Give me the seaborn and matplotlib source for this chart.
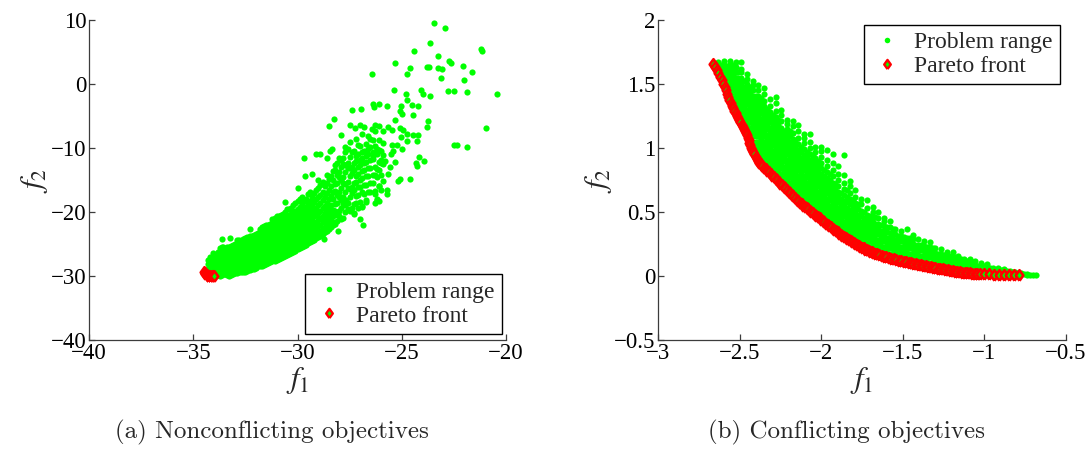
import matplotlib
matplotlib.use("Agg")
import matplotlib.pyplot as plt
from matplotlib.lines import Line2D
from matplotlib.markers import MarkerStyle
import seaborn as sns

# ---------------- (a) nonconflicting objectives ----------------
# dense core, stored column by column: f1 of the column, f2 of its points
a_core_f1 = [-34.3, -34.1, -33.9, -33.7, -33.5, -33.3, -33.1, -32.9, -32.7, -32.5,
             -32.3, -32.1, -31.9, -31.7, -31.5, -31.3, -31.1, -30.9, -30.7, -30.5,
             -30.3, -30.1, -29.9, -29.7, -29.5, -29.3, -29.1, -28.9, -28.7, -28.5,
             -28.3, -28.1, -27.9, -27.7, -27.5, -27.3, -27.1, -26.9, -26.7, -26.5,
             -26.3, -26.1, -25.9]
a_core_f2 = [
    [-28.9, -28.2, -27.5],
    [-29.4, -28.65, -27.9, -27.15],
    [-29.75, -29.0, -28.25, -27.5, -26.75],
    [-30.0, -29.25, -28.5, -27.75, -27.0, -26.25, -25.6],
    [-29.75, -29.0, -28.25, -27.5, -26.75, -26.0],
    [-30.0, -29.25, -28.5, -27.75, -27.0, -26.25, -25.5],
    [-29.7, -28.95, -28.2, -27.45, -26.7, -25.95, -25.2],
    [-29.6, -28.85, -28.1, -27.35, -26.6, -25.85, -25.1, -24.4],
    [-29.3, -28.55, -27.8, -27.05, -26.3, -25.55, -24.8],
    [-29.3, -28.55, -27.8, -27.05, -26.3, -25.55, -24.8, -24.05],
    [-29.0, -28.25, -27.5, -26.75, -26.0, -25.25, -24.5, -23.75],
    [-28.85, -28.1, -27.35, -26.6, -25.85, -25.1, -24.35, -23.6],
    [-28.5, -27.75, -27.0, -26.25, -25.5, -24.75, -24.0, -23.25],
    [-28.4, -27.65, -26.9, -26.15, -25.4, -24.65, -23.9, -23.15, -22.4],
    [-28.1, -27.35, -26.6, -25.85, -25.1, -24.35, -23.6, -22.85, -22.1],
    [-27.85, -27.1, -26.35, -25.6, -24.85, -24.1, -23.35, -22.6, -21.85],
    [-27.6, -26.85, -26.1, -25.35, -24.6, -23.85, -23.1, -22.35, -21.6, -20.9],
    [-27.3, -26.55, -25.8, -25.05, -24.3, -23.55, -22.8, -22.05, -21.3, -20.6],
    [-27.1, -26.35, -25.6, -24.85, -24.1, -23.35, -22.6, -21.85, -21.1, -20.3],
    [-26.75, -26.0, -25.25, -24.5, -23.75, -23.0, -22.25, -21.5, -20.6, -19.6],
    [-26.4, -25.65, -24.9, -24.15, -23.4, -22.65, -21.9, -21.15, -20.3, -19.3],
    [-26.05, -25.3, -24.55, -23.8, -23.05, -22.3, -21.55, -20.7, -19.8, -18.6],
    [-25.7, -24.95, -24.2, -23.45, -22.7, -21.95, -21.1, -20.2, -19.2, -18.0],
    [-25.3, -24.55, -23.8, -23.05, -22.3, -21.5, -20.6, -19.5, -18.3],
    [-24.9, -24.15, -23.4, -22.65, -21.8, -20.9, -19.9, -18.8, -17.2],
    [-24.5, -23.75, -23.0, -22.2, -21.3, -20.3, -19.1, -17.7],
    [-24.1, -23.3, -22.4, -21.5, -20.4, -19.3, -18.0, -16.5],
    [-23.7, -22.9, -22.0, -21.0, -19.8, -18.6, -17.3, -15.8],
    [-23.2, -22.3, -21.3, -20.2, -19.0, -17.6, -16.0],
    [-22.6, -21.6, -20.5, -19.3, -18.0, -16.5, -14.8],
    [-22.0, -20.6, -19.7, -18.0, -16.9, -15.0, -13.6],
    [-21.4, -20.4, -18.6, -17.4, -15.5, -14.2, -12.4],
    [-21.1, -19.3, -18.1, -16.2, -15.0, -13.0, -11.9],
    [-20.0, -18.9, -16.8, -15.6, -13.7, -12.6, -10.7],
    [-19.8, -17.6, -16.4, -14.3, -13.2, -11.4],
    [-20.1, -18.8, -16.6, -15.5, -13.4, -12.3, -10.4],
    [-19.4, -17.3, -16.1, -14.0, -13.0, -10.9, -9.6],
    [-19.0, -16.9, -14.7, -13.6, -11.5, -10.6],
    [-18.4, -15.8, -14.4, -12.2, -11.2, -9.3],
    [-16.8, -15.5, -13.1, -11.9, -9.9, -8.6],
    [-16.7, -14.2, -12.9, -10.6, -9.7],
    [-18.3, -15.9, -13.4, -12.2, -10.3, -8.7],
    [-15.1, -12.5, -11.1, -7.3],
]
# the in-between columns of the same core
a_mid_f1 = [-34.2, -34.0, -33.8, -33.6, -33.4, -33.2, -33.0, -32.8, -32.6, -32.4,
            -32.2, -32.0, -31.8, -31.6, -31.4, -31.2, -31.0, -30.8, -30.6, -30.4,
            -30.2, -30.0, -29.8, -29.6, -29.4, -29.2, -29.0, -28.8, -28.6, -28.4,
            -28.2, -28.0, -27.8, -27.6, -27.4, -27.2, -27.0, -26.8, -26.6, -26.4,
            -26.2, -26.0]
a_mid_f2 = [
    [-29.2, -28.5, -27.8, -27.1],
    [-29.7, -28.95, -28.2, -27.45, -26.8],
    [-29.9, -29.15, -28.4, -27.65, -26.9, -26.2],
    [-29.9, -29.15, -28.4, -27.65, -26.9, -26.15, -25.5],
    [-29.9, -29.15, -28.4, -27.65, -26.9, -26.15, -25.4],
    [-29.8, -29.05, -28.3, -27.55, -26.8, -26.05, -25.3],
    [-29.55, -28.8, -28.05, -27.3, -26.55, -25.8, -25.05],
    [-29.45, -28.7, -27.95, -27.2, -26.45, -25.7, -24.95, -24.3],
    [-29.4, -28.65, -27.9, -27.15, -26.4, -25.65, -24.9, -24.15],
    [-29.15, -28.4, -27.65, -26.9, -26.15, -25.4, -24.65, -23.9],
    [-28.95, -28.2, -27.45, -26.7, -25.95, -25.2, -24.45, -23.7],
    [-28.7, -27.95, -27.2, -26.45, -25.7, -24.95, -24.2, -23.45],
    [-28.5, -27.75, -27.0, -26.25, -25.5, -24.75, -24.0, -23.25, -22.6],
    [-28.25, -27.5, -26.75, -26.0, -25.25, -24.5, -23.75, -23.0, -22.25],
    [-28.0, -27.25, -26.5, -25.75, -25.0, -24.25, -23.5, -22.75, -22.0],
    [-27.7, -26.95, -26.2, -25.45, -24.7, -23.95, -23.2, -22.45, -21.7, -21.1],
    [-27.45, -26.7, -25.95, -25.2, -24.45, -23.7, -22.95, -22.2, -21.45, -20.7],
    [-27.2, -26.45, -25.7, -24.95, -24.2, -23.45, -22.7, -21.95, -21.2, -20.45],
    [-26.9, -26.15, -25.4, -24.65, -23.9, -23.15, -22.4, -21.65, -20.9, -20.0],
    [-26.55, -25.8, -25.05, -24.3, -23.55, -22.8, -22.05, -21.3, -20.5, -19.5],
    [-26.2, -25.45, -24.7, -23.95, -23.2, -22.45, -21.7, -20.9, -20.0, -18.9],
    [-25.85, -25.1, -24.35, -23.6, -22.85, -22.1, -21.3, -20.4, -19.5, -18.3],
    [-25.5, -24.75, -24.0, -23.25, -22.5, -21.7, -20.8, -19.8, -18.7, -17.6],
    [-25.1, -24.35, -23.6, -22.85, -22.0, -21.1, -20.2, -19.2, -18.0],
    [-24.7, -23.95, -23.2, -22.4, -21.5, -20.6, -19.5, -18.3, -16.8],
    [-24.3, -23.5, -22.6, -21.7, -20.7, -19.7, -18.5, -17.1],
    [-23.9, -23.1, -22.2, -21.2, -20.1, -18.9, -17.6, -16.2, -15.0],
    [-23.4, -22.6, -21.6, -20.6, -19.4, -18.2, -16.8, -15.3],
    [-22.9, -22.0, -20.9, -19.8, -18.6, -17.1, -15.5, -14.2],
    [-22.3, -21.2, -20.1, -18.9, -17.5, -15.9, -14.3],
    [-21.8, -19.9, -18.8, -16.7, -15.7, -13.5, -12.7],
    [-20.6, -19.8, -17.7, -16.8, -14.6, -13.7, -11.6],
    [-20.9, -18.8, -17.7, -15.5, -14.6, -12.5, -11.5],
    [-19.6, -18.6, -16.3, -15.3, -13.2, -12.3, -10.1],
    [-19.3, -17.1, -16.1, -13.9, -12.9, -10.7],
    [-18.6, -17.5, -15.3, -14.3, -12.1, -11.2],
    [-18.5, -16.1, -15.0, -12.7, -11.8, -9.7],
    [-17.2, -15.8, -13.5, -12.4, -10.4],
    [-16.9, -14.3, -13.2, -11.0, -10.2],
    [-15.4, -14.2, -11.7, -10.7, -8.7],
    [-17.9, -14.5, -13.3, -10.9, -10.1],
    [-16.6, -14.2, -11.9, -10.4],
]

# sparse points around and above the core
a_spread_f1 = [-23.43, -22.92, -23.66, -21.19, -21.16, -24.42, -23.27, -25.31, -22.72, -22.62,
               -23.8, -23.7, -22.06, -24.62, -23.25, -23.09, -21.65, -26.42, -24.74, -23.14,
               -22.01, -25.35, -22.76, -22.5, -21.88, -24.09, -24.0, -24.79, -23.63, -20.45,
               -24.74, -24.52, -24.24, -25.02, -26.1, -26.4, -26.35, -25.73, -26.96, -27.39,
               -25.07, -25.0, -24.44, -23.73, -25.31, -23.8, -28.27, -20.97, -28.47, -27.5,
               -26.98, -26.81, -27.26, -26.27, -26.1, -26.43, -26.27, -25.66, -25.45, -25.08,
               -24.95, -24.74, -24.46, -24.21, -25.02, -24.27, -24.74, -25.48, -25.21, -22.48,
               -22.34, -21.86, -24.98, -24.16, -23.93, -24.32, -24.26, -25.18, -25.1, -24.62,
               -25.56, -25.64, -25.7, -25.7, -26.1, -26.27, -26.2, -26.3, -26.73, -26.9,
               -26.85, -27.0, -27.3, -27.67, -27.92, -28.08, -28.3, -28.75, -29.67, -28.94,
               -29.12, -28.42, -28.33, -29.64, -29.29, -30.59, -29.98, -32.3, -33.6, -33.55,
               -34.06, -33.23, -25.5, -25.9, -26.6, -26.9, -25.3, -25.8, -26.4, -27.5,
               -27.9, -27.2, -26.0, -25.4, -27.7, -28.6]
a_spread_f2 = [9.53, 8.8, 6.47, 5.4, 5.2, 5.2, 4.3, 3.35, 3.6, 3.35,
               2.6, 2.6, 2.8, 2.5, 2.5, 2.3, 1.8, 1.5, 1.5, 0.86,
               0.6, -1.0, -1.06, -1.06, -1.3, -0.95, -1.6, -1.5, -1.8, -1.6,
               -2.5, -3.3, -3.4, -3.4, -3.1, -3.2, -3.65, -3.5, -3.9, -4.0,
               -4.2, -4.7, -4.8, -5.8, -5.7, -6.7, -5.4, -6.8, -6.5, -6.35,
               -6.35, -6.65, -6.8, -6.4, -6.6, -7.0, -7.3, -6.7, -7.2, -6.8,
               -7.2, -7.8, -7.9, -7.9, -8.3, -8.85, -8.85, -9.5, -9.6, -9.5,
               -9.6, -9.9, -10.1, -11.4, -12.1, -12.4, -12.8, -15.1, -14.8, -14.9,
               -13.0, -14.0, -17.2, -16.6, -15.9, -17.2, -18.2, -18.6, -18.2, -19.2,
               -22.1, -21.05, -20.3, -18.2, -17.7, -22.9, -21.6, -24.2, -11.6, -11.0,
               -10.9, -10.4, -10.1, -14.4, -14.0, -18.45, -16.3, -22.7, -24.2, -25.5,
               -26.45, -24.1, -11.0, -9.2, -8.2, -7.8, -12.2, -12.0, -11.3, -9.0,
               -8.0, -8.6, -12.4, -10.4, -9.8, -11.6]

a_front_f1 = [-34.5, -34.45, -34.42, -34.35, -34.3, -34.28, -34.2, -34.12, -34.05, -34.0]
a_front_f2 = [-29.45, -29.6, -29.75, -29.85, -30.05, -29.95, -30.0, -30.05, -30.0, -29.95]

# ---------------- (b) conflicting objectives ----------------
b_col_f1 = [-2.63, -2.595, -2.56, -2.525, -2.49, -2.455, -2.42, -2.385, -2.35, -2.315,
            -2.28, -2.245, -2.21, -2.175, -2.14, -2.105, -2.07, -2.035, -2.00, -1.965,
            -1.93, -1.895, -1.86, -1.825, -1.79, -1.755, -1.72, -1.685, -1.65, -1.615,
            -1.58, -1.545, -1.51, -1.475, -1.44, -1.405, -1.37, -1.335, -1.30, -1.265,
            -1.23, -1.195, -1.16, -1.125, -1.09, -1.055, -1.02, -0.985, -0.95, -0.915,
            -0.88, -0.845, -0.81, -0.775, -0.74, -0.705, -0.685]
b_col_f2 = [
    [1.63, 1.67],
    [1.53, 1.57, 1.61, 1.65, 1.68],
    [1.42, 1.46, 1.50, 1.54, 1.58, 1.62, 1.66, 1.68],
    [1.31, 1.35, 1.39, 1.43, 1.47, 1.51, 1.55, 1.59, 1.63, 1.67],
    [1.23, 1.27, 1.31, 1.35, 1.39, 1.43, 1.47, 1.51, 1.55, 1.59, 1.62, 1.67],
    [1.14, 1.18, 1.22, 1.26, 1.30, 1.34, 1.38, 1.42, 1.46, 1.50, 1.54, 1.58],
    [1.01, 1.05, 1.09, 1.13, 1.17, 1.21, 1.25, 1.29, 1.33, 1.37, 1.41, 1.45, 1.49, 1.52],
    [0.93, 0.97, 1.01, 1.05, 1.09, 1.13, 1.17, 1.21, 1.25, 1.29, 1.33, 1.37, 1.41, 1.45, 1.49],
    [0.89, 0.93, 0.97, 1.01, 1.05, 1.09, 1.13, 1.17, 1.21, 1.25, 1.29, 1.33, 1.37, 1.42, 1.47],
    [0.84, 0.88, 0.92, 0.96, 1.00, 1.04, 1.08, 1.12, 1.16, 1.20, 1.24, 1.28, 1.33, 1.38],
    [0.80, 0.84, 0.88, 0.92, 0.96, 1.00, 1.04, 1.08, 1.12, 1.16, 1.20, 1.24, 1.29, 1.35, 1.395],
    [0.76, 0.80, 0.84, 0.88, 0.92, 0.96, 1.00, 1.04, 1.08, 1.12, 1.16, 1.21, 1.26, 1.30],
    [0.71, 0.75, 0.79, 0.83, 0.87, 0.91, 0.95, 0.99, 1.03, 1.07, 1.11, 1.15, 1.19, 1.22],
    [0.67, 0.71, 0.75, 0.79, 0.83, 0.87, 0.91, 0.95, 0.99, 1.03, 1.07, 1.12, 1.17, 1.21],
    [0.625, 0.665, 0.705, 0.745, 0.785, 0.825, 0.865, 0.905, 0.945, 0.985, 1.03, 1.08, 1.13, 1.18],
    [0.585, 0.625, 0.665, 0.705, 0.745, 0.785, 0.825, 0.865, 0.905, 0.945, 0.99, 1.04, 1.08, 1.11],
    [0.55, 0.59, 0.63, 0.67, 0.71, 0.75, 0.79, 0.83, 0.87, 0.91, 0.95, 1.00, 1.05, 1.11],
    [0.515, 0.555, 0.595, 0.635, 0.675, 0.715, 0.755, 0.795, 0.835, 0.875, 0.92, 0.97, 1.01],
    [0.48, 0.52, 0.56, 0.60, 0.64, 0.68, 0.72, 0.76, 0.80, 0.84, 0.88, 0.93, 0.98, 1.005],
    [0.445, 0.485, 0.525, 0.565, 0.605, 0.645, 0.685, 0.725, 0.765, 0.81, 0.86, 0.91, 0.985],
    [0.41, 0.45, 0.49, 0.53, 0.57, 0.61, 0.65, 0.69, 0.73, 0.78, 0.83, 0.88, 0.95],
    [0.375, 0.415, 0.455, 0.495, 0.535, 0.575, 0.615, 0.655, 0.70, 0.75, 0.80, 0.86],
    [0.345, 0.385, 0.425, 0.465, 0.505, 0.545, 0.585, 0.63, 0.68, 0.73, 0.79, 0.945],
    [0.318, 0.358, 0.398, 0.438, 0.478, 0.518, 0.56, 0.60, 0.65, 0.70, 0.74],
    [0.29, 0.33, 0.37, 0.41, 0.45, 0.49, 0.53, 0.57, 0.62, 0.67],
    [0.265, 0.305, 0.345, 0.385, 0.425, 0.465, 0.51, 0.56, 0.60],
    [0.24, 0.28, 0.32, 0.36, 0.40, 0.44, 0.48, 0.53, 0.59],
    [0.22, 0.26, 0.30, 0.34, 0.38, 0.42, 0.46, 0.50, 0.54],
    [0.205, 0.245, 0.285, 0.325, 0.365, 0.405, 0.45, 0.50],
    [0.19, 0.23, 0.27, 0.31, 0.35, 0.39, 0.43, 0.45],
    [0.175, 0.215, 0.255, 0.295, 0.335, 0.38, 0.43],
    [0.165, 0.205, 0.245, 0.285, 0.325, 0.37],
    [0.15, 0.19, 0.23, 0.27, 0.31, 0.35],
    [0.14, 0.18, 0.22, 0.26, 0.30, 0.37],
    [0.13, 0.17, 0.21, 0.25, 0.29, 0.32],
    [0.125, 0.165, 0.205, 0.245, 0.29],
    [0.115, 0.155, 0.195, 0.235, 0.27],
    [0.105, 0.145, 0.185, 0.225, 0.265],
    [0.10, 0.14, 0.18, 0.22],
    [0.09, 0.13, 0.17, 0.21],
    [0.08, 0.12, 0.16, 0.19],
    [0.07, 0.11, 0.15, 0.185],
    [0.065, 0.10, 0.135, 0.16],
    [0.06, 0.095, 0.13],
    [0.055, 0.09, 0.13],
    [0.05, 0.085, 0.115],
    [0.045, 0.075, 0.10],
    [0.04, 0.07, 0.097],
    [0.035, 0.065],
    [0.03, 0.06],
    [0.025, 0.055],
    [0.02, 0.04],
    [0.018, 0.035],
    [0.015, 0.025],
    [0.01, 0.015],
    [0.006],
    [0.006],
]
# in-between columns of the same band
b_mid_f1 = [-2.6125, -2.5775, -2.5425, -2.5075, -2.4725, -2.4375, -2.4025, -2.3675, -2.3325,
            -2.2975, -2.2625, -2.2275, -2.1925, -2.1575, -2.1225, -2.0875, -2.0525, -2.0175,
            -1.9825, -1.9475, -1.9125, -1.8775, -1.8425, -1.8075, -1.7725, -1.7375, -1.7025,
            -1.6675, -1.6325, -1.5975, -1.5625, -1.5275, -1.4925, -1.4575, -1.4225, -1.3875,
            -1.3525, -1.3175, -1.2825, -1.2475, -1.2125, -1.1775, -1.1425, -1.1075, -1.0725,
            -1.0375, -1.0025, -0.9675, -0.9325, -0.8975, -0.8625, -0.8275, -0.7925, -0.7575,
            -0.7225]
b_mid_f2 = [
    [1.57, 1.61, 1.65],
    [1.48, 1.52, 1.56, 1.60, 1.64],
    [1.37, 1.41, 1.45, 1.49, 1.53, 1.57, 1.61, 1.65],
    [1.27, 1.31, 1.35, 1.39, 1.43, 1.47, 1.51, 1.55, 1.59],
    [1.20, 1.24, 1.28, 1.32, 1.36, 1.40, 1.44, 1.48, 1.52],
    [1.08, 1.12, 1.16, 1.20, 1.24, 1.28, 1.32, 1.36, 1.40, 1.44, 1.48],
    [0.97, 1.01, 1.05, 1.09, 1.13, 1.17, 1.21, 1.25, 1.29, 1.33, 1.37, 1.41],
    [0.91, 0.95, 0.99, 1.03, 1.07, 1.11, 1.15, 1.19, 1.23, 1.27, 1.31, 1.35, 1.39],
    [0.865, 0.905, 0.945, 0.985, 1.025, 1.065, 1.105, 1.145, 1.185, 1.225, 1.265, 1.305],
    [0.82, 0.86, 0.90, 0.94, 0.98, 1.02, 1.06, 1.10, 1.14, 1.18, 1.22, 1.26],
    [0.78, 0.82, 0.86, 0.90, 0.94, 0.98, 1.02, 1.06, 1.10, 1.14, 1.18, 1.22],
    [0.735, 0.775, 0.815, 0.855, 0.895, 0.935, 0.975, 1.015, 1.055, 1.095, 1.135],
    [0.69, 0.73, 0.77, 0.81, 0.85, 0.89, 0.93, 0.97, 1.01, 1.05, 1.09, 1.13],
    [0.645, 0.685, 0.725, 0.765, 0.805, 0.845, 0.885, 0.925, 0.965, 1.005, 1.05],
    [0.605, 0.645, 0.685, 0.725, 0.765, 0.805, 0.845, 0.885, 0.925, 0.965, 1.01],
    [0.57, 0.61, 0.65, 0.69, 0.73, 0.77, 0.81, 0.85, 0.89, 0.93, 0.97],
    [0.535, 0.575, 0.615, 0.655, 0.695, 0.735, 0.775, 0.815, 0.855, 0.895, 0.94],
    [0.50, 0.54, 0.58, 0.62, 0.66, 0.70, 0.74, 0.78, 0.82, 0.86, 0.90],
    [0.465, 0.505, 0.545, 0.585, 0.625, 0.665, 0.705, 0.745, 0.785, 0.83],
    [0.43, 0.47, 0.51, 0.55, 0.59, 0.63, 0.67, 0.71, 0.75, 0.80],
    [0.395, 0.435, 0.475, 0.515, 0.555, 0.595, 0.635, 0.675, 0.72],
    [0.365, 0.405, 0.445, 0.485, 0.525, 0.565, 0.605, 0.65],
    [0.335, 0.375, 0.415, 0.455, 0.495, 0.535, 0.575, 0.62, 0.67],
    [0.305, 0.345, 0.385, 0.425, 0.465, 0.505, 0.545, 0.59],
    [0.28, 0.32, 0.36, 0.40, 0.44, 0.48, 0.52, 0.56],
    [0.255, 0.295, 0.335, 0.375, 0.415, 0.455, 0.50],
    [0.23, 0.27, 0.31, 0.35, 0.39, 0.43, 0.47],
    [0.21, 0.25, 0.29, 0.33, 0.37, 0.41, 0.46],
    [0.195, 0.235, 0.275, 0.315, 0.355, 0.40],
    [0.18, 0.22, 0.26, 0.30, 0.34, 0.38],
    [0.17, 0.21, 0.25, 0.29, 0.33, 0.37],
    [0.155, 0.195, 0.235, 0.275, 0.315],
    [0.145, 0.185, 0.225, 0.265, 0.305],
    [0.135, 0.175, 0.215, 0.255, 0.295],
    [0.125, 0.165, 0.205, 0.245],
    [0.12, 0.16, 0.20, 0.24],
    [0.11, 0.15, 0.19, 0.23],
    [0.10, 0.14, 0.18, 0.22],
    [0.09, 0.13, 0.17],
    [0.085, 0.125, 0.165],
    [0.075, 0.115, 0.155],
    [0.07, 0.11, 0.145],
    [0.06, 0.10, 0.135],
    [0.055, 0.09, 0.12],
    [0.05, 0.085, 0.11],
    [0.045, 0.08],
    [0.04, 0.075],
    [0.035, 0.065],
    [0.03, 0.05],
    [0.025, 0.045],
    [0.02, 0.04],
    [0.018, 0.03],
    [0.015],
    [0.012],
    [0.008],
]

b_front_f1 = [-2.66, -2.65, -2.64, -2.63, -2.62, -2.61, -2.60, -2.592, -2.585, -2.577,
              -2.57, -2.562, -2.555, -2.547, -2.54, -2.532, -2.525, -2.517, -2.51, -2.502,
              -2.495, -2.487, -2.48, -2.472, -2.465, -2.46, -2.455, -2.45, -2.445, -2.44,
              -2.435, -2.43, -2.425, -2.418, -2.41, -2.402, -2.395, -2.388, -2.38, -2.37,
              -2.36, -2.35, -2.34, -2.33, -2.32, -2.31, -2.30, -2.29, -2.28, -2.27,
              -2.26, -2.25, -2.24, -2.23, -2.22, -2.21, -2.20, -2.19, -2.18, -2.17,
              -2.16, -2.15, -2.14, -2.13, -2.12, -2.11, -2.10, -2.09, -2.08, -2.07,
              -2.06, -2.05, -2.04, -2.03, -2.02, -2.01, -2.00, -1.99, -1.98, -1.97,
              -1.96, -1.95, -1.94, -1.93, -1.92, -1.91, -1.90, -1.89, -1.88, -1.87,
              -1.86, -1.85, -1.84, -1.83, -1.82, -1.81, -1.80, -1.79, -1.78, -1.77,
              -1.76, -1.75, -1.74, -1.73, -1.72, -1.71, -1.70, -1.69, -1.68, -1.67,
              -1.66, -1.645, -1.63, -1.615, -1.60, -1.585, -1.57, -1.555, -1.54, -1.525,
              -1.51, -1.495, -1.48, -1.465, -1.45, -1.435, -1.42, -1.405, -1.39, -1.375,
              -1.36, -1.345, -1.33, -1.315, -1.30, -1.285, -1.27, -1.255, -1.24, -1.225,
              -1.21, -1.195, -1.18, -1.165, -1.15, -1.135, -1.12, -1.105, -1.09, -1.075,
              -1.06, -1.045, -1.03, -1.00, -0.97, -0.94, -0.91, -0.88, -0.85, -0.82,
              -0.79]
b_front_f2 = [1.66, 1.635, 1.61, 1.585, 1.555, 1.53, 1.50, 1.475, 1.45, 1.425,
              1.40, 1.378, 1.355, 1.332, 1.31, 1.29, 1.27, 1.252, 1.235, 1.217,
              1.20, 1.182, 1.165, 1.15, 1.135, 1.118, 1.10, 1.08, 1.06, 1.04,
              1.02, 1.002, 0.985, 0.967, 0.95, 0.932, 0.915, 0.90, 0.885, 0.872,
              0.86, 0.847, 0.835, 0.822, 0.81, 0.797, 0.785, 0.772, 0.76, 0.747,
              0.735, 0.722, 0.71, 0.697, 0.685, 0.672, 0.66, 0.647, 0.635, 0.622,
              0.61, 0.597, 0.585, 0.572, 0.56, 0.55, 0.54, 0.53, 0.52, 0.51,
              0.50, 0.49, 0.48, 0.47, 0.46, 0.45, 0.44, 0.43, 0.42, 0.41,
              0.40, 0.39, 0.38, 0.37, 0.36, 0.35, 0.34, 0.33, 0.32, 0.312,
              0.305, 0.297, 0.29, 0.282, 0.275, 0.267, 0.26, 0.252, 0.245, 0.237,
              0.23, 0.222, 0.215, 0.207, 0.20, 0.195, 0.19, 0.184, 0.178, 0.173,
              0.168, 0.161, 0.155, 0.15, 0.145, 0.14, 0.135, 0.13, 0.125, 0.12,
              0.115, 0.111, 0.107, 0.103, 0.10, 0.096, 0.092, 0.088, 0.085, 0.081,
              0.077, 0.073, 0.07, 0.066, 0.062, 0.058, 0.055, 0.051, 0.047, 0.043,
              0.04, 0.037, 0.034, 0.032, 0.03, 0.027, 0.025, 0.023, 0.021, 0.019,
              0.018, 0.017, 0.016, 0.014, 0.012, 0.01, 0.009, 0.008, 0.007, 0.006,
              0.005]

# axis ticks and their labels
a_xticks = [-40, -35, -30, -25, -20]
a_xlabels = ["\u221240", "\u221235", "\u221230", "\u221225", "\u221220"]
a_yticks = [-40, -30, -20, -10, 0, 10]
a_ylabels = ["\u221240", "\u221230", "\u221220", "\u221210", "0", "10"]
b_xticks = [-3, -2.5, -2, -1.5, -1, -0.5]
b_xlabels = ["\u22123", "\u22122.5", "\u22122", "\u22121.5", "\u22121", "\u22120.5"]
b_yticks = [-0.5, 0, 0.5, 1, 1.5, 2]
b_ylabels = ["\u22120.5", "0", "0.5", "1", "1.5", "2"]

legend_labels = ["Problem range", "Pareto front"]
captions = ["(a) Nonconflicting objectives", "(b) Conflicting objectives"]


def flatten(*column_sets):
    xs, ys = [], []
    for col_x, col_y in column_sets:
        for x, col in zip(col_x, col_y):
            xs.extend([x] * len(col))
            ys.extend(col)
    return xs, ys


GREEN = "#00ff00"
RED = "#ff0000"
AXIS = "#3c3c3c"
diamond = MarkerStyle([(0, -1), (0.72, 0), (0, 1), (-0.72, 0), (0, -1)])

sns.set_theme(style="white")
plt.rcParams["font.family"] = ["Liberation Serif", "DejaVu Serif"]
plt.rcParams["mathtext.fontset"] = "stix"
plt.rcParams["axes.unicode_minus"] = True

fig = plt.figure(figsize=(10.86, 4.5), dpi=100)
ax_a = fig.add_axes([89 / 1086, 110 / 450, 417 / 1086, 320 / 450])
ax_b = fig.add_axes([658 / 1086, 110 / 450, 408 / 1086, 320 / 450])


def draw_panel(ax, green_x, green_y, front_x, front_y):
    sns.scatterplot(x=green_x, y=green_y, ax=ax, color=GREEN, s=20,
                    marker="o", linewidth=0, legend=False, zorder=2)
    sns.scatterplot(x=front_x, y=front_y, ax=ax, color=GREEN, s=58,
                    marker=diamond, edgecolor=RED, linewidth=1.9,
                    legend=False, zorder=3)


a_x, a_y = flatten((a_core_f1, a_core_f2), (a_mid_f1, a_mid_f2))
draw_panel(ax_a, a_x + a_spread_f1, a_y + a_spread_f2, a_front_f1, a_front_f2)
b_x, b_y = flatten((b_col_f1, b_col_f2), (b_mid_f1, b_mid_f2))
draw_panel(ax_b, b_x, b_y, b_front_f1, b_front_f2)

handles = [
    Line2D([], [], linestyle="none", marker="o", markersize=4,
           color=GREEN, markeredgewidth=0),
    Line2D([], [], linestyle="none", marker=diamond, markersize=6.6,
           markerfacecolor=GREEN, markeredgecolor=RED, markeredgewidth=1.7),
]

setups = [
    (ax_a, (-40, -20), (-40, 10), a_xticks, a_xlabels, a_yticks, a_ylabels,
     "lower right", (0.99, 0.02)),
    (ax_b, (-3, -0.5), (-0.5, 2), b_xticks, b_xlabels, b_yticks, b_ylabels,
     "upper right", (0.985, 0.985)),
]
for ax, xl, yl, xt, xtl, yt, ytl, loc, anchor in setups:
    ax.set_xlim(*xl)
    ax.set_ylim(*yl)
    ax.set_xticks(xt)
    ax.set_xticklabels(xtl)
    ax.set_yticks(yt)
    ax.set_yticklabels(ytl)
    for side in ("top", "right"):
        ax.spines[side].set_visible(False)
    for side in ("left", "bottom"):
        ax.spines[side].set_color(AXIS)
        ax.spines[side].set_linewidth(0.9)
    ax.tick_params(direction="in", length=4, width=0.9, color=AXIS,
                   labelsize=16.5, labelcolor="black", pad=2,
                   bottom=True, left=True)
    ax.set_xlabel("$f_1$", fontsize=22, labelpad=1)
    ax.set_ylabel("$f_2$", fontsize=22, labelpad=0)
    leg = ax.legend(handles, legend_labels, loc=loc, bbox_to_anchor=anchor,
                    borderaxespad=0, fontsize=17, frameon=True, fancybox=False,
                    framealpha=1, edgecolor="black", handlelength=1.4,
                    handletextpad=0.45, labelspacing=0.1, borderpad=0.3)
    leg.get_frame().set_linewidth(1.0)

fig.text(272 / 1086, 1 - 432 / 450, captions[0], family="cmr10", fontsize=18,
         ha="center", va="center")
fig.text(846 / 1086, 1 - 432 / 450, captions[1], family="cmr10", fontsize=18,
         ha="center", va="center")

fig.savefig("out.png", dpi=100)
